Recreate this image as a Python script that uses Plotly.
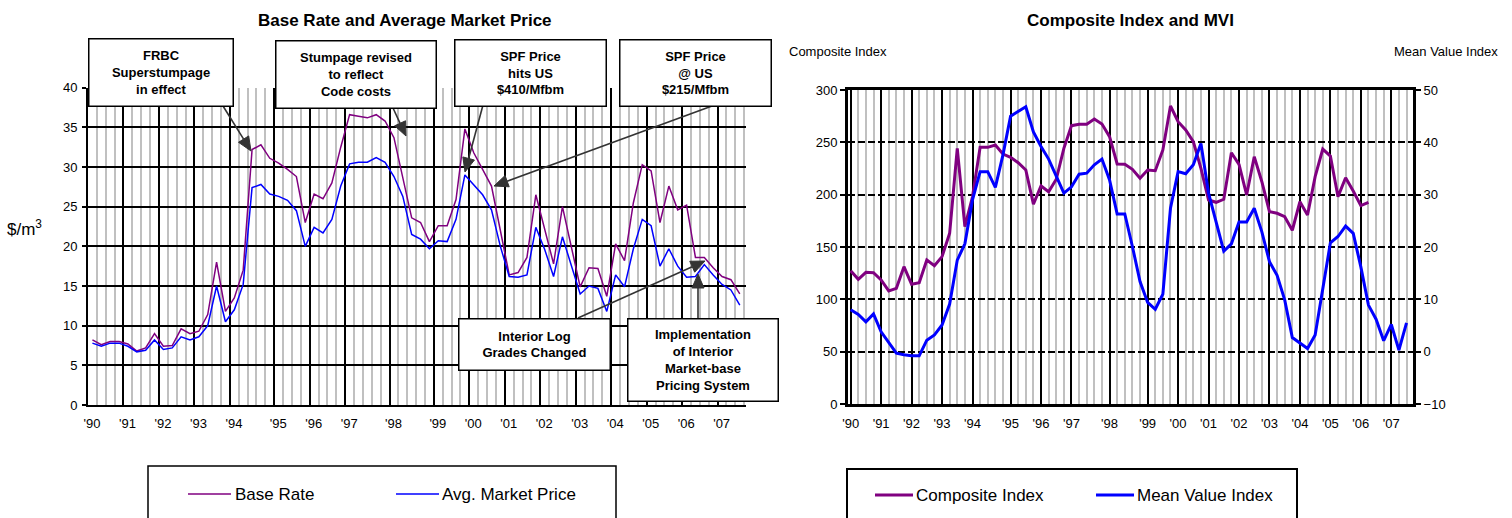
import math
import plotly.graph_objects as go

W, H = 1512, 518
FONT = "Liberation Sans, Arial, sans-serif"

# ---------------- data ----------------
year_labels = ["'90", "'91", "'92", "'93", "'94", "'95", "'96", "'97", "'98",
               "'99", "'00", "'01", "'02", "'03", "'04", "'05", "'06", "'07"]
# quarter slot where each year begins on the category axis
year_slots = [0, 4, 8, 12, 16, 21, 25, 29, 34, 39, 43, 47, 51, 55, 59, 63, 67, 71]

base_rate = [8.2, 7.6, 8.0, 8.0, 7.7, 6.8, 7.2, 9.0, 7.4, 7.5, 9.6, 9.0, 9.3, 11.4, 18.0, 11.8, 13.5, 17.0,
             32.2, 32.8, 31.1, 30.5, 29.7, 28.8, 23.0, 26.6, 26.0, 28.0,
             32.5, 36.6, 36.4, 36.2, 36.6, 35.8, 33.7,
             28.8, 23.6, 23.0, 20.6, 22.6, 22.6, 25.9, 34.8, 31.8, 29.7, 27.6, 22.0,
             16.4, 16.7, 18.6, 26.5, 22.0, 17.8, 25.0, 20.0, 14.9, 17.3, 17.2, 13.7, 20.3, 18.2,
             25.5, 30.3, 29.5, 23.0, 27.6, 24.6, 25.2, 18.6, 18.6, 17.3, 16.2, 15.8, 14.0]

avg_market_price = [7.8, 7.4, 7.8, 7.8, 7.4, 6.7, 6.9, 8.2, 7.0, 7.2, 8.6, 8.2, 8.6, 10.0, 15.0, 10.5, 12.0, 15.2,
                    27.4, 27.8, 26.6, 26.3, 25.8, 24.5, 20.0, 22.4, 21.7, 23.4,
                    27.6, 30.4, 30.6, 30.6, 31.2, 30.6, 28.8,
                    26.3, 21.5, 20.9, 19.7, 20.7, 20.6, 23.4, 29.0, 27.8, 26.5, 24.6, 20.0,
                    16.2, 16.1, 16.4, 22.4, 19.6, 16.2, 21.2, 17.5, 14.0, 15.0, 14.7, 11.8, 16.4, 14.9,
                    19.7, 23.4, 22.6, 17.5, 19.7, 17.5, 16.1, 16.2, 17.7, 16.4, 15.2, 14.5, 12.6]

composite_index = [127.4, 119.1, 125.8, 125.5, 118.5, 108.0, 110.5, 131.2, 114.4, 115.9, 137.6, 132.2, 140.8, 163.1,
                   244.3, 169.4, 198.0, 245.2, 245.2, 247.4, 238.8, 235.7, 230.5, 223.6, 191.0, 208.3, 202.8,
                   214.7, 244.3, 265.9, 267.2, 267.2, 272.3, 267.5, 255.4, 229.3, 229.0, 224.2, 215.6, 223.6,
                   222.9, 242.7, 284.7, 269.7, 261.8, 250.6, 225.2, 194.9, 192.7, 195.6, 240.1, 229.0, 199.7,
                   236.3, 212.4, 183.7, 182.2, 179.0, 166.0, 193.3, 180.6, 217.2, 243.6, 236.9, 198.1, 216.2,
                   203.5, 189.5, 192.7]

mean_value_index = [8.0, 7.1, 5.7, 7.2, 3.8, 1.7, -0.3, -0.6, -0.8, -0.8, 2.2, 3.2, 5.1, 9.1, 17.5, 20.6,
                    29.0, 34.4, 34.4, 31.4, 37.6, 45.0, 45.9, 46.8, 42.0, 39.2, 36.8, 33.4, 30.3, 31.5, 33.9,
                    34.1, 35.7, 36.8, 32.8, 26.3, 26.3, 20.1,
                    13.4, 9.4, 8.1, 11.0, 27.4, 34.4, 34.0, 35.7, 39.8, 30.3, 24.5, 19.2, 20.6, 24.8, 24.8,
                    27.4, 22.9, 17.2, 14.6, 9.9, 2.7, 1.6, 0.6, 3.2, 11.8, 20.8, 22.0, 24.0, 22.6, 16.2, 8.9,
                    6.2, 2.1, 5.2, 0.3, 5.5]

# category positions
left_x = [i + 0.5 for i in range(len(base_rate))]
comp_x = list(range(len(composite_index)))
mvi_x = list(range(len(mean_value_index)))

PURPLE = "#800080"
BLUE = "#0000FF"
GRAY = "#C0C0C0"


def px(x):
    return x / W


def py(y):
    return 1 - y / H


fig = go.Figure()
fig.add_trace(go.Scatter(x=left_x, y=base_rate, mode="lines", name="Base Rate",
                         line=dict(color=PURPLE, width=1.5), xaxis="x", yaxis="y", showlegend=False))
fig.add_trace(go.Scatter(x=left_x, y=avg_market_price, mode="lines", name="Avg. Market Price",
                         line=dict(color=BLUE, width=1.5), xaxis="x", yaxis="y", showlegend=False))
fig.add_trace(go.Scatter(x=comp_x, y=composite_index, mode="lines", name="Composite Index",
                         line=dict(color=PURPLE, width=3), xaxis="x2", yaxis="y2", showlegend=False))
fig.add_trace(go.Scatter(x=mvi_x, y=mean_value_index, mode="lines", name="Mean Value Index",
                         line=dict(color=BLUE, width=3), xaxis="x2", yaxis="y3", showlegend=False))

tickfont = dict(family=FONT, size=13, color="black")

fig.update_layout(
    width=W, height=H, margin=dict(l=0, r=0, t=0, b=0, pad=0, autoexpand=False),
    paper_bgcolor="white", plot_bgcolor="white",
    font=dict(family=FONT, color="black"),
    xaxis=dict(domain=[px(88), px(746)], anchor="y", range=[0, 74.2], automargin=False,
               tickmode="array", tickvals=year_slots, ticktext=year_labels, ticklabelshift=4,
               ticklabelstandoff=5,
               tickfont=tickfont, ticks="", showgrid=True, gridcolor="black", gridwidth=2,
               showline=True, linecolor="black", linewidth=2, zeroline=False,
               minor=dict(tickvals=list(range(1, 75)), showgrid=True, gridcolor=GRAY, gridwidth=2, ticks=""),
               fixedrange=True),
    yaxis=dict(domain=[py(405), py(87.7)], anchor="x", range=[0, 40], automargin=False,
               tickmode="array", tickvals=list(range(0, 41, 5)), tickfont=tickfont,
               ticks="outside", ticklen=4, tickwidth=2, tickcolor="black", ticklabelstandoff=2,
               showgrid=True, gridcolor="black", gridwidth=2,
               showline=True, linecolor="black", linewidth=2, zeroline=False, fixedrange=True),
    xaxis2=dict(domain=[px(848), px(1413)], anchor="y2", range=[-0.35, 73.85], automargin=False,
                tickmode="array", tickvals=year_slots, ticktext=year_labels, ticklabelstandoff=5,
                tickfont=tickfont, ticks="", showgrid=True, gridcolor="black", gridwidth=2,
                showline=True, linecolor="black", linewidth=3, mirror=True, zeroline=False,
                minor=dict(tickvals=list(range(0, 74)), showgrid=True, gridcolor=GRAY, gridwidth=2, ticks=""),
                fixedrange=True),
    yaxis2=dict(domain=[py(404), py(90)], anchor="x2", range=[0, 300], automargin=False,
                tickmode="array", tickvals=list(range(0, 301, 50)), tickfont=tickfont,
                ticks="outside", ticklen=5, tickwidth=2, tickcolor="black",
                showgrid=True, gridcolor="black", gridwidth=2, griddash="7px,3px",
                showline=True, linecolor="black", linewidth=3, zeroline=False, fixedrange=True),
    yaxis3=dict(overlaying="y2", anchor="x2", side="right", range=[-10, 50], automargin=False,
                tickmode="array", tickvals=list(range(-10, 51, 10)), tickfont=tickfont,
                ticks="outside", ticklen=5, tickwidth=2, tickcolor="black",
                showgrid=False, showline=True, linecolor="black", linewidth=3, zeroline=False,
                fixedrange=True),
)

ann = []
shapes = []

# titles
ann.append(dict(xref="paper", yref="paper", x=px(405), y=py(20), xanchor="center", yanchor="middle",
                text="Base Rate and Average Market Price", showarrow=False,
                font=dict(family=FONT, size=17, color="black", weight="bold")))
ann.append(dict(xref="paper", yref="paper", x=px(1130), y=py(20), xanchor="center", yanchor="middle",
                text="Composite Index and MVI", showarrow=False,
                font=dict(family=FONT, size=17, color="black", weight="bold")))
# axis captions
ann.append(dict(xref="paper", yref="paper", x=px(5), y=py(228), xanchor="left", yanchor="middle",
                text="$/m<sup>3</sup>", showarrow=False, font=dict(family=FONT, size=17, color="black")))
ann.append(dict(xref="paper", yref="paper", x=px(787), y=py(51), xanchor="left", yanchor="middle",
                text="Composite Index", showarrow=False, font=dict(family=FONT, size=13, color="black")))
ann.append(dict(xref="paper", yref="paper", x=px(1500), y=py(51), xanchor="right", yanchor="middle",
                text="Mean Value Index", showarrow=False, font=dict(family=FONT, size=13, color="black")))

# arrows (tail -> tip) drawn as a line plus a filled head
arrows = [((223, 106), (251, 151)),
          ((393, 108), (406, 136)),
          ((483, 105), (465, 172)),
          ((712, 106), (494, 186)),
          ((578, 318), (705, 261)),
          ((698, 318), (698, 274))]
HEAD_L, HEAD_W = 14, 6
for (tx, ty), (hx, hy) in arrows:
    dx, dy = hx - tx, hy - ty
    n = math.hypot(dx, dy)
    ux, uy = dx / n, dy / n
    bx, by = hx - HEAD_L * ux, hy - HEAD_L * uy
    shapes.append(dict(type="line", xref="paper", yref="paper", x0=px(tx), y0=py(ty), x1=px(bx), y1=py(by),
                       line=dict(color="#333333", width=1.6)))
    pts = [(hx, hy), (bx - HEAD_W * uy, by + HEAD_W * ux), (bx + HEAD_W * uy, by - HEAD_W * ux)]
    path = "M " + " L ".join(f"{px(a):.5f},{py(b):.5f}" for a, b in pts) + " Z"
    shapes.append(dict(type="path", xref="paper", yref="paper", path=path,
                       fillcolor="#333333", line=dict(color="#333333", width=1)))

boxes = [((88, 38, 233, 106), "FRBC<br>Superstumpage<br>in effect"),
         ((275, 40, 436, 108), "Stumpage revised<br>to reflect<br>Code costs"),
         ((454, 39, 606, 106), "SPF Price<br>hits US<br>$410/Mfbm"),
         ((619, 39, 771, 106), "SPF Price<br>@ US<br>$215/Mfbm"),
         ((458, 318, 610, 370), "Interior Log<br>Grades Changed"),
         ((627, 318, 778, 401), "Implementation<br>of Interior<br>Market-base<br>Pricing System")]
for (x0, y0, x1, y1), txt in boxes:
    ann.append(dict(xref="paper", yref="paper", x=px(x0), y=py(y0), xanchor="left", yanchor="top",
                    width=x1 - x0 - 2, height=y1 - y0 - 2, text=txt, showarrow=False,
                    bordercolor="black", borderwidth=1.5, borderpad=0, bgcolor="white",
                    align="center", valign="middle",
                    font=dict(family=FONT, size=13, color="black", weight="bold")))

# legends (drawn as boxes with sample lines)
shapes.append(dict(type="rect", xref="paper", yref="paper", x0=px(148), x1=px(616), y0=py(466), y1=py(540),
                   line=dict(color="black", width=1.5), fillcolor="rgba(0,0,0,0)"))
shapes.append(dict(type="line", xref="paper", yref="paper", x0=px(188), x1=px(231), y0=py(494), y1=py(494),
                   line=dict(color=PURPLE, width=1.5)))
shapes.append(dict(type="line", xref="paper", yref="paper", x0=px(396), x1=px(439), y0=py(494), y1=py(494),
                   line=dict(color=BLUE, width=1.5)))
ann.append(dict(xref="paper", yref="paper", x=px(233), y=py(494), xanchor="left", yanchor="middle",
                text="Base Rate", showarrow=False, font=dict(family=FONT, size=17, color="black")))
ann.append(dict(xref="paper", yref="paper", x=px(440), y=py(494), xanchor="left", yanchor="middle",
                text="Avg. Market Price", showarrow=False, font=dict(family=FONT, size=17, color="black")))

shapes.append(dict(type="rect", xref="paper", yref="paper", x0=px(847), x1=px(1297), y0=py(469), y1=py(540),
                   line=dict(color="black", width=2), fillcolor="rgba(0,0,0,0)"))
shapes.append(dict(type="line", xref="paper", yref="paper", x0=px(875), x1=px(913), y0=py(495), y1=py(495),
                   line=dict(color=PURPLE, width=3)))
shapes.append(dict(type="line", xref="paper", yref="paper", x0=px(1096), x1=px(1134), y0=py(495), y1=py(495),
                   line=dict(color=BLUE, width=3)))
ann.append(dict(xref="paper", yref="paper", x=px(914), y=py(495), xanchor="left", yanchor="middle",
                text="Composite Index", showarrow=False, font=dict(family=FONT, size=17, color="black")))
ann.append(dict(xref="paper", yref="paper", x=px(1135), y=py(495), xanchor="left", yanchor="middle",
                text="Mean Value Index", showarrow=False, font=dict(family=FONT, size=17, color="black")))

fig.update_layout(annotations=ann, shapes=shapes)

fig.write_html("out.html", include_plotlyjs=True, config={"displayModeBar": False},
               post_script="document.body.style.margin='0';document.body.style.overflow='hidden';")
